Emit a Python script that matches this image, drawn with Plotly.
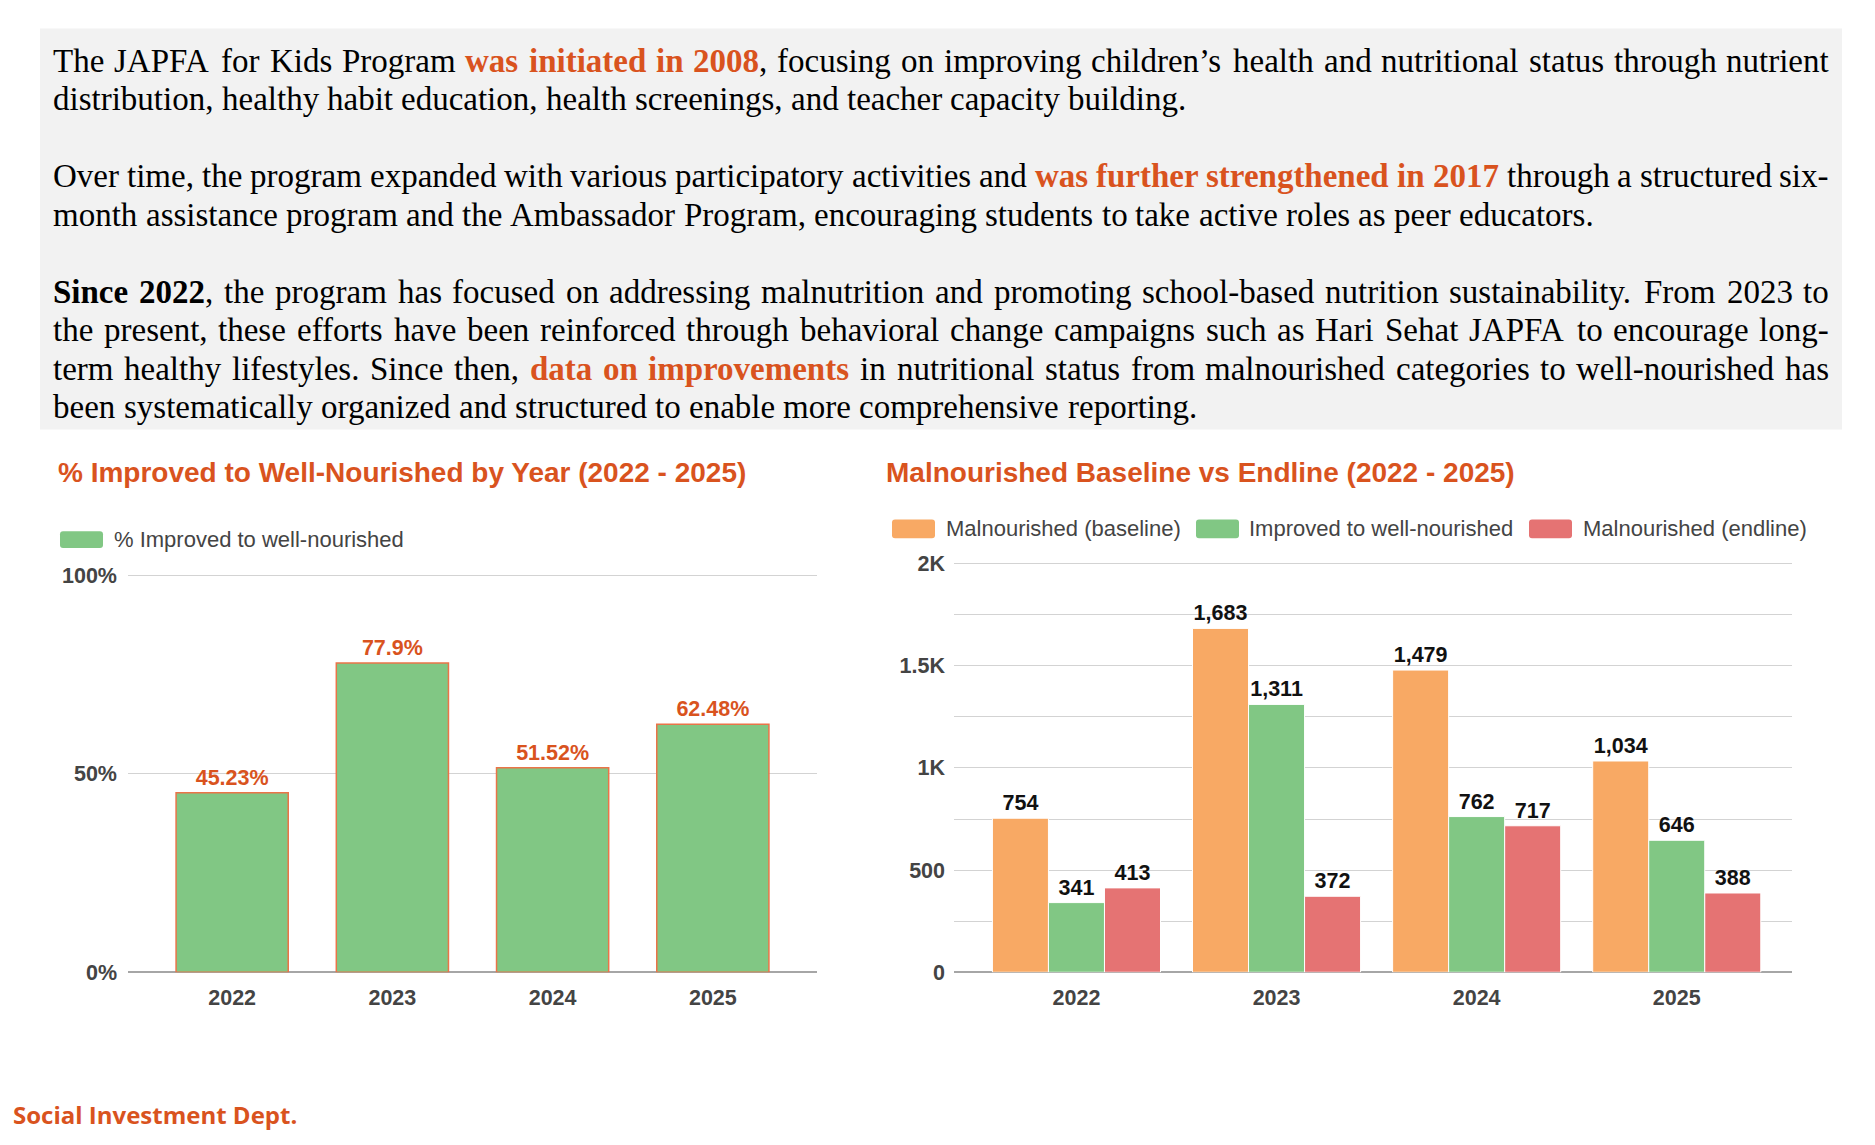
import plotly.graph_objects as go

W, H = 1875, 1145

# ---------------- data ----------------
years = ["2022", "2023", "2024", "2025"]
pct_improved = [0.4523, 0.779, 0.5152, 0.6248]
pct_labels = ["45.23%", "77.9%", "51.52%", "62.48%"]

baseline = [754, 1683, 1479, 1034]
improved = [341, 1311, 762, 646]
endline = [413, 372, 717, 388]
baseline_labels = ["754", "1,683", "1,479", "1,034"]
improved_labels = ["341", "1,311", "762", "646"]
endline_labels = ["413", "372", "717", "388"]

y1_tickvals = [0, 0.5, 1.0]
y1_ticktext = ["0%", "50%", "100%"]
y2_tickvals = [0, 500, 1000, 1500, 2000]
y2_ticktext = ["0", "500", "1K", "1.5K", "2K"]
y2_minor = [250, 750, 1250, 1750]

series_names = ["Malnourished (baseline)", "Improved to well-nourished", "Malnourished (endline)"]

# paragraph lines: [..] bold orange, {..} bold black; flag = justified
P_LINES = [
    ("The JAPFA for Kids Program [was initiated in 2008], focusing on improving children’s health and nutritional status through nutrient", True),
    ("distribution, healthy habit education, health screenings, and teacher capacity building.", False),
    None,
    ("Over time, the program expanded with various participatory activities and [was further strengthened in 2017] through a structured six-", True),
    ("month assistance program and the Ambassador Program, encouraging students to take active roles as peer educators.", False),
    None,
    ("{Since 2022}, the program has focused on addressing malnutrition and promoting school-based nutrition sustainability. From 2023 to", True),
    ("the present, these efforts have been reinforced through behavioral change campaigns such as Hari Sehat JAPFA to encourage long-", True),
    ("term healthy lifestyles. Since then, [data on improvements] in nutritional status from malnourished categories to well-nourished has", True),
    ("been systematically organized and structured to enable more comprehensive reporting.", False),
]

# ---------------- styles ----------------
ORANGE = "#D9531E"
C_BASE = "#F8A964"
C_IMP = "#81C784"
C_END = "#E57373"
GRID = "#D3D3D3"
AX_TXT = "#444444"
SANS = "Liberation Sans, Arial, sans-serif"
SERIF = "Liberation Serif, Times New Roman, serif"


def X(px):
    return px / W


def Y(py):
    return 1 - py / H


# Times metrics (Liberation Serif is metric compatible)
_reg = {' ': 250, ',': 250, '.': 250, '-': 333, '’': 333, '(': 333, ')': 333, ':': 278}
_reg.update({d: 500 for d in "0123456789"})
_reg.update(dict(zip("ABCDEFGHIJKLMNOPQRSTUVWXYZ",
                     [722, 667, 667, 722, 611, 556, 722, 722, 333, 389, 722, 611, 889, 722, 722, 556, 722, 667, 556, 611, 722, 722, 944, 722, 722, 611])))
_reg.update(dict(zip("abcdefghijklmnopqrstuvwxyz",
                     [444, 500, 444, 500, 444, 333, 500, 500, 278, 278, 500, 278, 778, 500, 500, 500, 500, 333, 389, 278, 500, 500, 722, 500, 500, 444])))
_bold = {' ': 250, ',': 250, '.': 250, '-': 333, '’': 333, '(': 333, ')': 333, ':': 333}
_bold.update({d: 500 for d in "0123456789"})
_bold.update(dict(zip("ABCDEFGHIJKLMNOPQRSTUVWXYZ",
                      [722, 667, 722, 722, 667, 611, 778, 778, 389, 500, 778, 667, 944, 722, 778, 611, 778, 722, 556, 667, 722, 722, 1000, 722, 722, 667])))
_bold.update(dict(zip("abcdefghijklmnopqrstuvwxyz",
                      [500, 556, 444, 556, 444, 333, 500, 556, 278, 333, 556, 278, 833, 556, 500, 556, 556, 444, 389, 333, 556, 500, 722, 500, 500, 444])))


def parse_line(s):
    words, cur, buf, style = [], [], "", "r"
    for ch in s:
        if ch in "[]{}":
            if buf:
                cur.append((buf, style))
                buf = ""
            style = {"[": "o", "]": "r", "{": "b", "}": "r"}[ch]
        elif ch == " ":
            if buf:
                cur.append((buf, style))
                buf = ""
            if cur:
                words.append(cur)
                cur = []
        else:
            buf += ch
    if buf:
        cur.append((buf, style))
    if cur:
        words.append(cur)
    return words


def word_width(word, fs):
    w = 0
    for txt, st in word:
        tab = _reg if st == "r" else _bold
        w += sum(tab.get(c, 500) for c in txt)
    return w * fs / 1000.0


def word_html(word):
    out = ""
    for txt, st in word:
        if st == "o":
            out += '<b><span style="color:%s">%s</span></b>' % (ORANGE, txt)
        elif st == "b":
            out += "<b>%s</b>" % txt
        else:
            out += txt
    return out


fig = go.Figure()

# ---------------- left chart ----------------
fig.add_trace(go.Bar(
    x=years, y=pct_improved, name="% Improved to well-nourished",
    width=0.7,
    marker=dict(color=C_IMP, line=dict(color="#EA7448", width=1.5)),
    text=pct_labels, textposition="outside", constraintext="none", cliponaxis=False,
    textfont=dict(family=SANS, size=21.5, color=ORANGE, weight="bold"),
    xaxis="x", yaxis="y", hoverinfo="skip",
))

# ---------------- right chart ----------------
for name, vals, labs, col in [
    (series_names[0], baseline, baseline_labels, C_BASE),
    (series_names[1], improved, improved_labels, C_IMP),
    (series_names[2], endline, endline_labels, C_END),
]:
    fig.add_trace(go.Bar(
        x=years, y=vals, name=name,
        marker=dict(color=col, line=dict(color="white", width=1)),
        text=labs, textposition="outside", constraintext="none", cliponaxis=False,
        textfont=dict(family=SANS, size=21.5, color="#111111", weight="bold"),
        xaxis="x2", yaxis="y2", hoverinfo="skip",
    ))

shapes = []
annotations = []

# grey text panel
shapes.append(dict(type="rect", xref="paper", yref="paper", layer="below",
                   x0=X(40), x1=X(1842), y0=Y(428), y1=Y(19),
                   fillcolor="#F2F2F2", line=dict(width=0)))

# paragraph text, justified by word placement
FS = 33
LEFT, RIGHT = 53, 1829
Y0, DY = 51.6, 39.3
for k, item in enumerate(P_LINES):
    if item is None:
        continue
    s, justify = item
    words = parse_line(s)
    widths = [word_width(w, FS) for w in words]
    if justify and len(words) > 1:
        gap = (RIGHT - LEFT - sum(widths)) / (len(words) - 1)
    else:
        gap = 250 * FS / 1000.0
    x = LEFT
    yc = Y0 + k * DY
    for w, ww in zip(words, widths):
        annotations.append(dict(
            xref="paper", yref="paper", x=X(x), y=Y(yc), xanchor="left", yanchor="middle",
            text=word_html(w), showarrow=False, borderpad=0, borderwidth=0,
            font=dict(family=SERIF, size=FS, color="#000000"),
        ))
        x += ww + gap

# chart titles
annotations.append(dict(xref="paper", yref="paper", x=X(56), y=Y(472), xanchor="left", yanchor="middle",
                        text="<b>% Improved to Well-Nourished by Year (2022 - 2025)</b>", showarrow=False,
                        font=dict(family=SANS, size=28, color=ORANGE)))
annotations.append(dict(xref="paper", yref="paper", x=X(884), y=Y(472), xanchor="left", yanchor="middle",
                        text="<b>Malnourished Baseline vs Endline (2022 - 2025)</b>", showarrow=False,
                        font=dict(family=SANS, size=28, color=ORANGE)))


def rrect(x0, y0, x1, y1, r=3):
    rx, ry = r, r
    p = "M %f,%f L %f,%f Q %f,%f %f,%f L %f,%f Q %f,%f %f,%f L %f,%f Q %f,%f %f,%f L %f,%f Q %f,%f %f,%f Z" % (
        X(x0 + rx), Y(y0), X(x1 - rx), Y(y0), X(x1), Y(y0), X(x1), Y(y0 + ry),
        X(x1), Y(y1 - ry), X(x1), Y(y1), X(x1 - rx), Y(y1),
        X(x0 + rx), Y(y1), X(x0), Y(y1), X(x0), Y(y1 - ry),
        X(x0), Y(y0 + ry), X(x0), Y(y0), X(x0 + rx), Y(y0))
    return p


# legends (left)
shapes.append(dict(type="path", xref="paper", yref="paper", path=rrect(60, 532, 103, 549),
                   fillcolor=C_IMP, line=dict(width=0)))
annotations.append(dict(xref="paper", yref="paper", x=X(112), y=Y(540), xanchor="left", yanchor="middle",
                        text="% Improved to well-nourished", showarrow=False,
                        font=dict(family=SANS, size=22, color=AX_TXT)))
# legends (right)
for (sx, tx), name, col in zip([(892, 944), (1196, 1247), (1529, 1581)], series_names, [C_BASE, C_IMP, C_END]):
    shapes.append(dict(type="path", xref="paper", yref="paper", path=rrect(sx, 520, sx + 43, 539),
                       fillcolor=col, line=dict(width=0)))
    annotations.append(dict(xref="paper", yref="paper", x=X(tx), y=Y(529), xanchor="left", yanchor="middle",
                            text=name, showarrow=False,
                            font=dict(family=SANS, size=22, color=AX_TXT)))

# footer
annotations.append(dict(xref="paper", yref="paper", x=X(11), y=Y(1127), xanchor="left", yanchor="middle",
                        text="<b>Social Investment Dept.</b>", showarrow=False,
                        font=dict(family="Open Sans, Noto Sans, sans-serif", size=24, color=ORANGE)))

tickfont = dict(family=SANS, size=21.5, color=AX_TXT, weight="bold")

fig.update_layout(
    width=W, height=H, margin=dict(l=0, r=0, t=0, b=0, pad=0),
    paper_bgcolor="white", plot_bgcolor="rgba(0,0,0,0)",
    showlegend=False, barmode="group", bargap=0.16, bargroupgap=0.0,
    shapes=shapes, annotations=annotations,
    xaxis=dict(domain=[X(128), X(817)], anchor="y", type="category", range=[-0.65, 3.65],
               showgrid=False, zeroline=False, showline=False, ticks="", tickfont=tickfont,
               ticklabelstandoff=10, fixedrange=True),
    yaxis=dict(domain=[Y(982), Y(575.8)], anchor="x", range=[0, 1.003], tickvals=y1_tickvals, ticktext=y1_ticktext,
               showgrid=True, gridcolor=GRID, gridwidth=1, zeroline=True, zerolinecolor="#A6A6A6",
               zerolinewidth=1.5, ticks="", tickfont=tickfont, ticklabelstandoff=10, fixedrange=True),
    xaxis2=dict(domain=[X(954), X(1792)], anchor="y2", type="category", range=[-0.612, 3.576],
                showgrid=False, zeroline=False, showline=False, ticks="", tickfont=tickfont,
                ticklabelstandoff=10, fixedrange=True),
    yaxis2=dict(domain=[Y(982), Y(563.7)], anchor="x2", range=[0, 2006], tickvals=y2_tickvals, ticktext=y2_ticktext,
                showgrid=True, gridcolor=GRID, gridwidth=1, zeroline=True, zerolinecolor="#A6A6A6",
                zerolinewidth=1.5, ticks="", tickfont=tickfont, ticklabelstandoff=8, fixedrange=True,
                minor=dict(tickvals=y2_minor, showgrid=True, gridcolor=GRID, gridwidth=1, ticks="")),
)

fig.write_html("out.html", config={"displayModeBar": False},
               post_script="document.body.style.margin='0';document.body.style.overflow='hidden';")
